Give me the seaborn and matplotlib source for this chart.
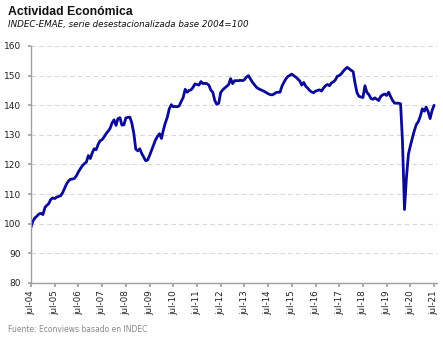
import matplotlib
matplotlib.use("Agg")
import matplotlib.pyplot as plt
import seaborn as sns
import pandas as pd

start_month = "2004-07-01"
values = [
    98.8, 101.0, 102.0, 102.6, 103.3, 103.5,
    103.1, 105.5, 106.2, 106.8, 108.2, 108.7, 108.5, 109.0, 109.2, 109.5, 110.5, 112.0,
    113.5, 114.5, 115.0, 115.1, 115.3, 116.2, 117.5, 118.6, 119.6, 120.3, 120.8, 123.0,
    122.0, 124.0, 125.3, 125.0, 126.8, 128.0, 128.4, 129.3, 130.4, 131.2, 132.2, 134.0,
    135.1, 133.2, 135.5, 135.8, 133.3, 133.4, 135.7, 135.9, 136.0, 134.0, 130.5, 125.2,
    124.6, 125.3, 123.8, 122.5, 121.3, 121.5, 123.0, 124.8, 126.6, 128.3, 129.5, 130.4,
    128.8, 131.8, 134.0, 136.0, 138.8, 140.2, 139.5, 139.6, 139.5, 139.8, 141.3, 142.6,
    145.4, 144.4, 145.0, 145.2, 146.0, 147.2, 147.0, 146.8, 148.0, 147.3, 147.4, 147.3,
    146.8, 145.1, 144.4, 141.6, 140.3, 140.7, 144.3, 145.2, 145.8, 146.4, 147.0, 149.0,
    147.3, 148.3, 148.3, 148.3, 148.4, 148.3, 148.6, 149.5, 150.0, 148.9, 147.8, 147.0,
    146.1, 145.6, 145.3, 145.0, 144.7, 144.3, 143.9, 143.6, 143.5, 143.8, 144.3, 144.4,
    144.4, 146.5, 147.7, 148.9, 149.7, 150.1, 150.5, 150.0, 149.5, 148.9, 148.2, 146.8,
    147.7, 146.4, 145.8, 145.0, 144.5, 144.2, 144.8, 145.0, 145.2, 144.8, 145.8, 146.6,
    147.0, 146.6, 147.5, 147.9, 148.5, 149.8, 150.0, 150.6, 151.5, 152.2, 152.8, 152.3,
    151.8, 151.3, 147.5, 144.2, 143.0, 142.8, 142.6, 146.6, 144.3, 143.6, 142.3, 142.0,
    142.5, 142.0, 141.6, 143.0, 143.5, 143.8, 143.3, 144.4, 142.9, 141.6, 140.7, 140.7,
    140.7, 140.5, 128.0, 104.8, 115.5, 123.5, 126.3, 129.0, 131.5, 133.5, 134.5, 136.3,
    138.8, 138.0, 139.4, 137.8, 135.5, 138.3, 140.0,
]
tick_labels = ["jul-%02d" % y for y in range(4, 22)]
y_ticks = [80, 90, 100, 110, 120, 130, 140, 150, 160]

title = "Actividad Económica"
subtitle = "INDEC-EMAE, serie desestacionalizada base 2004=100"
source = "Fuente: Econviews basado en INDEC"

dates = pd.date_range(start_month, periods=len(values), freq="MS")
df = pd.DataFrame({"fecha": dates, "emae": values})

sns.set_theme(style="white")
plt.rcParams["font.family"] = ["DejaVu Sans"]

fig = plt.figure(figsize=(4.43, 3.40), dpi=100)
ax = fig.add_axes([31 / 443, 1 - 283 / 340, (437 - 31) / 443, (283 - 46) / 340])

sns.lineplot(data=df, x="fecha", y="emae", ax=ax, color="#0a0a96", linewidth=2.0)

ax.set_ylim(80, 160)
ax.set_yticks(y_ticks)
ax.set_yticklabels([str(v) for v in y_ticks], fontsize=6.5, color="#222222")
tick_dates = pd.date_range("2004-07-01", periods=len(tick_labels), freq="12MS")
ax.set_xticks(tick_dates)
ax.set_xticklabels(tick_labels, rotation=90, fontsize=6.3, color="#222222")
ax.set_xlim(pd.Timestamp("2004-07-01"), pd.Timestamp("2021-08-15"))

ax.grid(axis="y", color="#d8d8d8", linestyle=(0, (4, 3)), linewidth=0.8)
ax.grid(axis="x", visible=False)
for s in ["top", "right"]:
    ax.spines[s].set_visible(False)
for s in ["left", "bottom"]:
    ax.spines[s].set_color("#a0a0a0")
    ax.spines[s].set_linewidth(1.0)
ax.tick_params(axis="x", bottom=True, length=3, color="#a0a0a0", pad=2)
ax.tick_params(axis="y", left=True, length=2, color="#a0a0a0", pad=5)
ax.set_xlabel("")
ax.set_ylabel("")

fig.text(8 / 443, 1 - 12 / 340, title, fontsize=8.8, fontweight="bold",
         family=["Liberation Sans", "DejaVu Sans"], va="center", ha="left", color="#111111")
fig.text(8 / 443, 1 - 24 / 340, subtitle, fontsize=6.3, style="italic", va="center", ha="left", color="#111111")
fig.text(8 / 443, 1 - 330 / 340, source, fontsize=5.5, va="center", ha="left", color="#888888")

fig.savefig("out.png", dpi=100)
